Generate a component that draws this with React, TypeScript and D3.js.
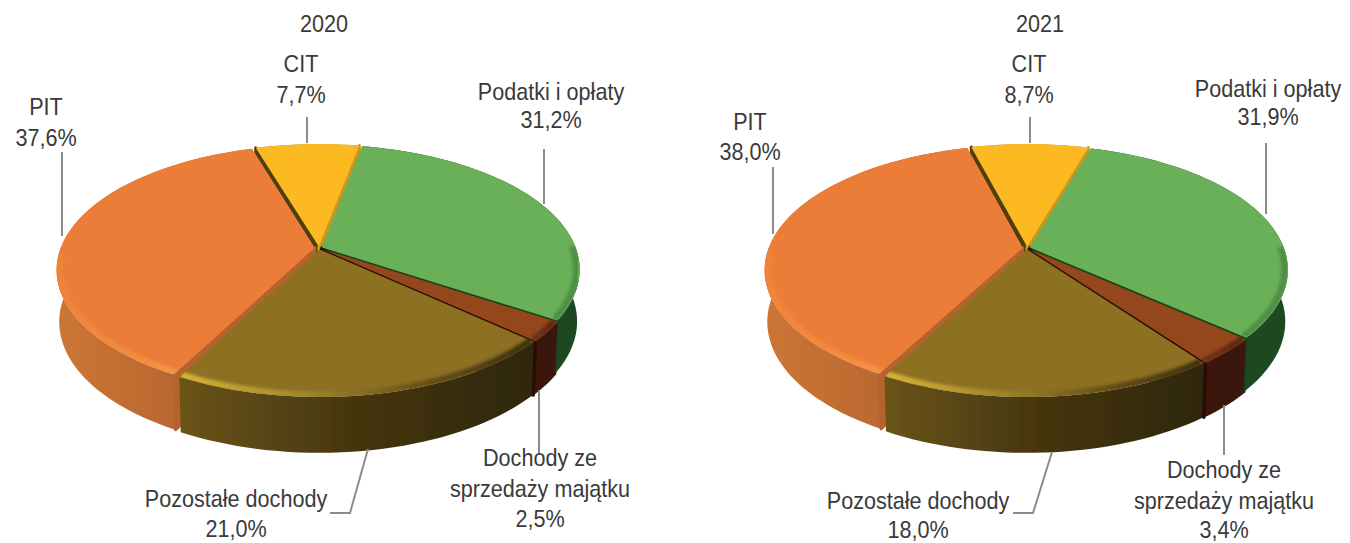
import React from "react";
import * as d3 from "d3";

const categories = ["Podatki i opłaty", "Dochody ze sprzedaży majątku", "Pozostałe dochody", "PIT", "CIT"];
const values2020 = [31.2, 2.5, 21.0, 37.6, 7.7];
const values2021 = [31.9, 3.4, 18.0, 38.0, 8.7];
const years = ["2020", "2021"];

const topColors = ["#69b058", "#95471f", "#8d6f24", "#ec7d37", "#fcb924"];
const wallStops = [
  ["#1f4a20", "#1f4a20"],
  ["#3a1507", "#3a1507"],
  ["#6a5418", "#453510", "#2f270e"],
  ["#cc7635", "#ad5e2c"],
  ["#b98a1c", "#b98a1c"],
];
const rimStops = [
  ["#4f8f45", "#4f8f45", "#4f8f45"],
  ["#6e3214", "#5a2810"],
  ["#d8b436", "#a58a2c", "#6a5418", "#3c2f10"],
  ["#ef8339", "#f48f42", "#f4a848"],
  ["#fcb924", "#fcb924"],
];
const radialWallStart = ["#1f4a20", "#3a1507", "#3a2e0e", "#b5642e", "#4e3f08"];
const radialWallEnd = ["#1c431c", "#2a0e04", "#3a2e0e", "#b5642e", "#c9971f"];
const explodeBy = [0.012, 0.012, 0.012, 0.017, 0.012];
const paintOrder = [4, 0, 3, 1, 2];

const R = 254, A = 121, K = 0.176, DEPTH = 51, SHRINK = 0.99;
const DEG = Math.PI / 180;

type Pt = [number, number];
function project(cx: number, cy: number, u: number, v: number, bottom: boolean): Pt {
  const w = 1 - K * v;
  const X = (R * u) / w;
  const Y = (A * v) / w;
  return bottom ? [cx + X * SHRINK, cy + Y * SHRINK + DEPTH / Math.pow(w, 0.6)] : [cx + X, cy + Y];
}

const lineGen = d3.line<Pt>().x((d) => d[0]).y((d) => d[1]);

type LabelRow = { t: string; x: number; y: number };
type Layout = {
  cx: number; cy: number; start: number;
  labels: LabelRow[]; leaders: Pt[][];
};

const layouts: Layout[] = [
  {
    cx: 319, cy: 248, start: 10.8,
    labels: [
      { t: "2020", x: 324, y: 32 },
      { t: "CIT", x: 301, y: 72 }, { t: "7,7%", x: 301, y: 103 },
      { t: "PIT", x: 46, y: 115 }, { t: "37,6%", x: 46, y: 146 },
      { t: "Podatki i opłaty", x: 551, y: 100 }, { t: "31,2%", x: 551, y: 128 },
      { t: "Dochody ze", x: 540, y: 466 }, { t: "sprzedaży majątku", x: 540, y: 497 }, { t: "2,5%", x: 540, y: 527 },
      { t: "Pozostałe dochody", x: 236, y: 507 }, { t: "21,0%", x: 236, y: 537 },
    ],
    leaders: [
      [[307, 117], [307, 143]],
      [[62, 152], [62, 236]],
      [[544, 149], [544, 204]],
      [[539, 390], [539, 455]],
      [[368, 449], [350, 513], [330, 513]],
    ],
  },
  {
    cx: 1027, cy: 248, start: 16.4,
    labels: [
      { t: "2021", x: 1040, y: 32 },
      { t: "CIT", x: 1029, y: 72 }, { t: "8,7%", x: 1029, y: 103 },
      { t: "PIT", x: 750, y: 130 }, { t: "38,0%", x: 750, y: 160 },
      { t: "Podatki i opłaty", x: 1268, y: 97 }, { t: "31,9%", x: 1268, y: 125 },
      { t: "Dochody ze", x: 1224, y: 478 }, { t: "sprzedaży majątku", x: 1224, y: 509 }, { t: "3,4%", x: 1224, y: 538 },
      { t: "Pozostałe dochody", x: 918, y: 509 }, { t: "18,0%", x: 918, y: 538 },
    ],
    leaders: [
      [[1030, 117], [1030, 143]],
      [[773, 167], [773, 234]],
      [[1266, 143], [1266, 214]],
      [[1224, 405], [1224, 455]],
      [[1052, 452], [1033, 513], [1013, 513]],
    ],
  },
];

function Pie3D({ values, layout, year }: { values: number[]; layout: Layout; year: string }) {
  const { cx, cy, start } = layout;
  const pie = d3.pie<number>().sort(null).value((d) => d)
    .startAngle(start * DEG).endAngle(start * DEG + 2 * Math.PI);
  const arcs = pie(values);

  const shapes = arcs.map((a, idx) => {
    const mid = (a.startAngle + a.endAngle) / 2;
    const ox = explodeBy[idx] * Math.sin(mid), oy = -explodeBy[idx] * Math.cos(mid);
    const n = Math.max(4, Math.ceil((a.endAngle - a.startAngle) / (2 * DEG)));
    const angles = d3.range(n + 1).map((i) => a.startAngle + ((a.endAngle - a.startAngle) * i) / n);
    const rimAt = (t: number, bottom: boolean, r = 1) =>
      project(cx, cy, ox + r * Math.sin(t), oy - r * Math.cos(t), bottom);
    const tip = project(cx, cy, ox, oy, false);
    const tipB = project(cx, cy, ox, oy, true);
    const top = angles.map((t) => rimAt(t, false));
    const bot = angles.map((t) => rimAt(t, true));
    const topFace = [tip, ...top];
    const wall = [...top, ...bot.slice().reverse()];
    const wallS = [tip, top[0], bot[0], tipB];
    const wallE = [tip, top[n], bot[n], tipB];
    const rimAngles = angles.filter((t) => {
      const s = ((t / DEG) % 360 + 360) % 360;
      return s > 88 && s < 268;
    });
    const rim = rimAngles.map((t) => rimAt(t, false, 0.988));
    const xs = top.map((d) => d[0]);
    return {
      a, topFace, wall, wallS, wallE, rim, x0: d3.min(xs)!, x1: d3.max(xs)!,
      showS: Math.sin(a.startAngle) < 0, showE: Math.sin(a.endAngle) > 0,
    };
  });

  const grad = (id: string, stops: string[], x0: number, x1: number) => (
    <linearGradient key={id} id={id} gradientUnits="userSpaceOnUse" x1={x0} x2={x1} y1={0} y2={0}>
      {stops.map((c, i) => (
        <stop key={i} offset={stops.length > 1 ? i / (stops.length - 1) : 0} stopColor={c} />
      ))}
    </linearGradient>
  );

  return (
    <g>
      <defs>
        {shapes.map((s, i) => grad(`wall-${year}-${i}`, wallStops[i], s.x0, s.x1))}
        {shapes.map((s, i) => grad(`rim-${year}-${i}`, rimStops[i], s.x0, s.x1))}
        {shapes.map((s, i) => (
          <clipPath key={i} id={`clip-${year}-${i}`}>
            <path d={lineGen(s.topFace)! + "Z"} />
          </clipPath>
        ))}
      </defs>
      <g filter="url(#soft)">
        {paintOrder.map((i) => {
          const s = shapes[i];
          return (
            <g key={i}>
              <path d={lineGen(s.wall)! + "Z"} fill={`url(#wall-${year}-${i})`} />
              {s.showS && <path d={lineGen(s.wallS)! + "Z"} fill={radialWallStart[i]} stroke={radialWallStart[i]} strokeWidth={3} strokeLinejoin="round" />}
              {s.showE && <path d={lineGen(s.wallE)! + "Z"} fill={radialWallEnd[i]} stroke={radialWallEnd[i]} strokeWidth={3} strokeLinejoin="round" />}
              <path d={lineGen(s.topFace)! + "Z"} fill={topColors[i]} />
              {s.rim.length > 1 && (
                <g clipPath={`url(#clip-${year}-${i})`}>
                  <path d={lineGen(s.rim)!} fill="none" stroke={`url(#rim-${year}-${i})`} strokeWidth={7} filter="url(#rimBlur)" />
                </g>
              )}
            </g>
          );
        })}
      </g>
      {layout.leaders.map((l, i) => (
        <path key={i} d={lineGen(l)!} fill="none" stroke="#8c8c8c" strokeWidth={2} />
      ))}
      {layout.labels.map((l, i) => (
        <text key={i} transform={`translate(${l.x},${l.y}) scale(0.9,1)`} textAnchor="middle"
          fontFamily="'Liberation Sans', Arial, sans-serif" fontSize={24} fill="#3a3a3a">{l.t}</text>
      ))}
    </g>
  );
}

export default function App() {
  return (
    <svg width={1350} height={543} viewBox="0 0 1350 543"
      style={{ position: "absolute", left: 0, top: 0, background: "#fff" }}>
      <defs>
        <filter id="soft" x="-5%" y="-5%" width="110%" height="110%"><feGaussianBlur stdDeviation={0.6} /></filter>
        <filter id="rimBlur" x="-5%" y="-10%" width="110%" height="120%"><feGaussianBlur stdDeviation={1.6} /></filter>
      </defs>
      <Pie3D values={values2020} layout={layouts[0]} year={years[0]} />
      <Pie3D values={values2021} layout={layouts[1]} year={years[1]} />
      <title>{categories.join(", ")}</title>
    </svg>
  );
}
